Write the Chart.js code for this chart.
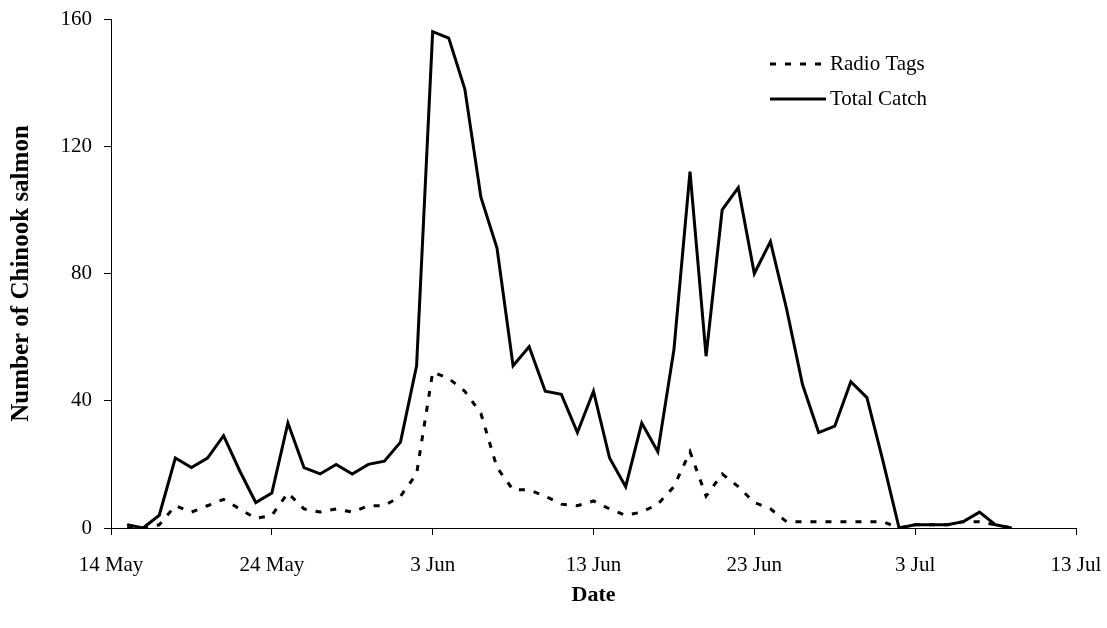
<!DOCTYPE html>
<html>
<head>
<meta charset="utf-8">
<script src="https://cdn.jsdelivr.net/npm/chart.js@4.4.1/dist/chart.umd.min.js"></script>
<style>
  html, body { margin: 0; padding: 0; background: #ffffff; }
  #wrap { width: 1107px; height: 628px; }
</style>
</head>
<body>
<div id="wrap"><canvas id="c" width="1107" height="628"></canvas></div>
<script>
// Day offsets from 14 May
const days = [1,2,3,4,5,6,7,8,9,10,11,12,13,14,15,16,17,18,19,20,21,22,23,24,25,26,27,28,29,30,
              31,32,33,34,35,36,37,38,39,40,41,42,43,44,45,46,47,48,49,50,51,52,53,54,55,56];
const totalCatch = [1,0,4,22,19,22,29,18,8,11,33,19,17,20,17,20,21,27,51,156,
                    154,138,104,88,51,57,43,42,30,43,22,13,33,24,56,112,54,100,107,80,
                    90,69,45,30,32,46,41,21,0,1,1,1,2,5,1,0];
const radioTags = [0,0,1,7,5,7,9,6,3,4,11,6,5,6,5,7,7,10,17,49,
                   47,43,36,19,12,12,10,7.5,7,8.5,6,4,5,7.5,13,24,10,17,13,8,
                   6,2,2,2,2,2,2,2,0,1,1,1,2,2,1,0];
const tickLabels = ['14 May','24 May','3 Jun','13 Jun','23 Jun','3 Jul','13 Jul'];
const yTicks = [0,40,80,120,160];

const serif = '"Liberation Serif", "Times New Roman", serif';

const legendPlugin = {
  id: 'customLegend',
  afterDraw(chart) {
    const ctx = chart.ctx;
    const items = chart.data.datasets.map((ds, i) => ({ds, y: [64, 99][i]}));
    ctx.save();
    items.forEach(it => {
      ctx.beginPath();
      ctx.strokeStyle = '#000';
      ctx.lineWidth = it.ds.borderWidth;
      ctx.setLineDash(it.ds.borderDash || []);
      ctx.moveTo(770, it.y);
      ctx.lineTo(826, it.y);
      ctx.stroke();
      ctx.setLineDash([]);
      ctx.fillStyle = '#000';
      ctx.font = '21px ' + serif;
      ctx.textAlign = 'left';
      ctx.textBaseline = 'middle';
      ctx.fillText(it.ds.label, 830, it.y);
    });
    ctx.restore();
  }
};

new Chart(document.getElementById('c'), {
  type: 'line',
  data: {
    datasets: [
      {
        label: 'Radio Tags',
        data: days.map((d, i) => ({x: d, y: radioTags[i]})),
        borderColor: '#000',
        borderWidth: 3,
        borderDash: [6, 9],
        pointRadius: 0,
        tension: 0,
        fill: false
      },
      {
        label: 'Total Catch',
        data: days.map((d, i) => ({x: d, y: totalCatch[i]})),
        borderColor: '#000',
        borderWidth: 3,
        pointRadius: 0,
        tension: 0,
        fill: false
      }
    ]
  },
  options: {
    responsive: false,
    animation: false,
    devicePixelRatio: 1,
    layout: { padding: { left: 0, right: 31, top: 19, bottom: 0 } },
    plugins: {
      legend: { display: false },
      tooltip: { enabled: false }
    },
    scales: {
      x: {
        type: 'linear',
        min: 0,
        max: 60,
        afterFit: s => { s.height = 100; s.paddingLeft = 0; s.paddingRight = 0; },
        afterBuildTicks: s => { s.ticks = tickLabels.map((t, i) => ({value: i * 10})); },
        ticks: {
          autoSkip: false,
          maxRotation: 0,
          padding: 18,
          color: '#000',
          font: { family: serif, size: 21 },
          callback: (v) => tickLabels[Math.round(v / 10)]
        },
        grid: { drawOnChartArea: false, drawTicks: true, tickLength: 7, color: '#000', lineWidth: 1 },
        border: { display: true, color: '#000', width: 1 },
        title: {
          display: true,
          text: 'Date',
          color: '#000',
          font: { family: serif, size: 22, weight: 'bold' },
          padding: { top: 0, bottom: 19 }
        }
      },
      y: {
        type: 'linear',
        min: 0,
        max: 160,
        afterFit: s => { s.width = 111; s.paddingTop = 0; s.paddingBottom = 0; },
        afterBuildTicks: s => { s.ticks = yTicks.map(v => ({value: v})); },
        ticks: {
          padding: 12,
          color: '#000',
          font: { family: serif, size: 21 }
        },
        grid: { drawOnChartArea: false, drawTicks: true, tickLength: 7, color: '#000', lineWidth: 1 },
        border: { display: true, color: '#000', width: 1 },
        title: {
          display: true,
          text: 'Number of Chinook salmon',
          color: '#000',
          font: { family: serif, size: 25, weight: 'bold' },
          padding: { top: 7, bottom: 0 }
        }
      }
    }
  },
  plugins: [legendPlugin]
});
</script>
</body>
</html>
